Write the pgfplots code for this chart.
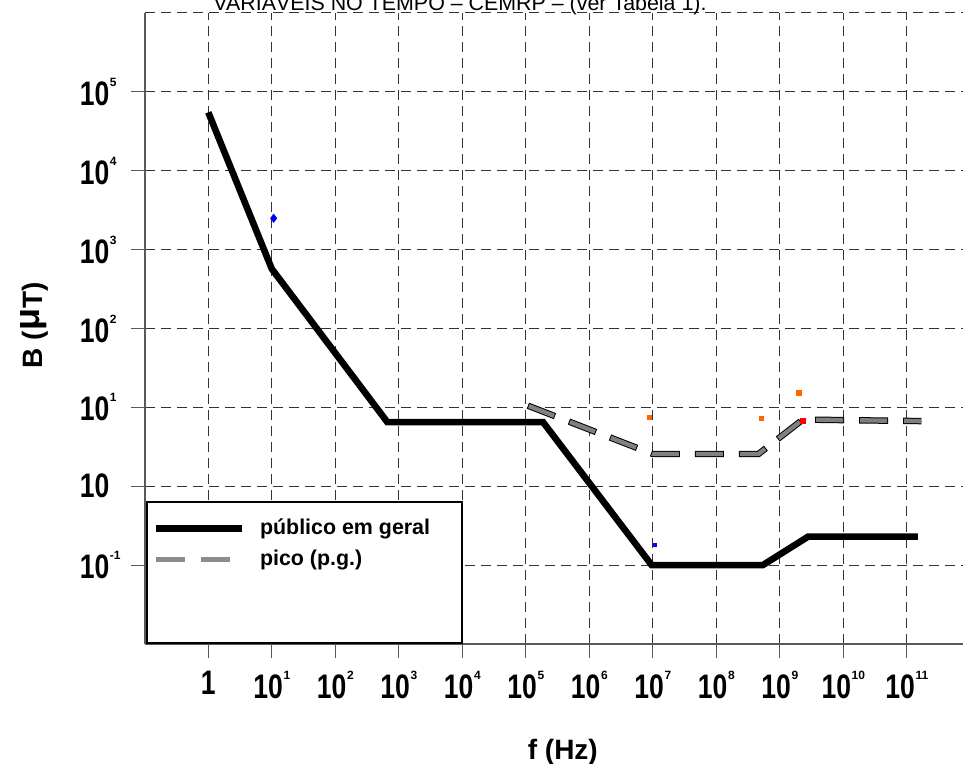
\documentclass[border=0pt]{standalone}
\usepackage{fontspec}
\setmainfont{Liberation Sans}
\newfontfamily\tickfont[FakeStretch=0.78]{Liberation Sans}
\usepackage{pgfplots}
\pgfplotsset{compat=1.18}
\definecolor{orng}{HTML}{FF6600}
\newcommand{\xl}[1]{{\tickfont\bfseries 10}\hspace{0.3pt}\raisebox{9.5pt}{\fontsize{6}{6}\selectfont\bfseries #1}}
\newcommand{\yl}[1]{{\tickfont\bfseries 10}\rlap{\hspace{0.3pt}\raisebox{9.5pt}{\fontsize{6}{6}\selectfont\bfseries #1}}}
\begin{document}
\begin{tikzpicture}
\begin{axis}[
  scale only axis, width=412.75pt, height=315.5pt,
  xmode=log, ymode=log,
  xmin=1e-1, xmax=1e12, ymin=1e-2, ymax=1e6,
  axis x line*=bottom, axis y line*=left,
  axis line style={black!65, line width=0.9pt, -},
  xtick={1,1e1,1e2,1e3,1e4,1e5,1e6,1e7,1e8,1e9,1e10,1e11},
  xticklabels={{\tickfont\bfseries 1},\xl{1},\xl{2},\xl{3},\xl{4},\xl{5},\xl{6},\xl{7},\xl{8},\xl{9},\xl{10},\xl{11}},
  ytick={1e-1,1,1e1,1e2,1e3,1e4,1e5},
  yticklabels={\yl{-1},{\tickfont\bfseries 10},\yl{1},\yl{2},\yl{3},\yl{4},\yl{5}},
  extra y ticks={1e6}, extra y tick labels={},
  extra y tick style={major tick length=0pt},
  xminorticks=false, yminorticks=false,
  grid=major,
  major grid style={black!80, line width=0.5pt, dash pattern=on 5pt off 3pt},
  tick align=outside, major tick length=7pt,
  tick style={black!65, line width=0.6pt},
  ticklabel style={font=\fontsize{17}{17}\selectfont, inner sep=0pt},
  xticklabel style={anchor=north, yshift=-6.5pt},
  yticklabel style={anchor=east, xshift=-10.5pt},
  clip=false,
  legend style={at={(rel axis cs:0.0027,0.2254)}, anchor=north west, draw=none, fill=none,
    xshift=2.5pt, yshift=-6.5pt, inner sep=0pt,
    font=\bfseries\fontsize{10.7}{10.7}\selectfont,
    row sep=2pt, cells={anchor=west},
    /tikz/every odd column/.append style={column sep=5.5pt}},
]
\addplot[black, line width=3.3pt, forget plot] coordinates {
  (1,5.5e4) (10,570) (660,6.5) (1.87e5,6.5) (9.6e6,0.1) (5.4e8,0.1) (2.8e9,0.23) (1.5e11,0.23)};
\addplot[draw=black, line width=3.2pt, dash pattern=on 14.5pt off 7.5pt, forget plot,
  postaction={draw=black!50, line width=2.2pt, dash pattern=on 13.5pt off 8.5pt, dash phase=21.5pt}]
  coordinates {(1.08e5,10.5) (1e7,2.56) (4.6e8,2.56) (2.3e9,7.0) (1.7e11,6.7)};
% small coloured marks seen in the picture
\addplot[only marks, mark=diamond*, mark size=2pt, blue, forget plot] coordinates {(10.7,2500)};
\addplot[only marks, mark=square*, mark size=1pt, orng, forget plot] coordinates {(8.7e6,7.55) (5.2e8,7.2)};
\addplot[only marks, mark=square*, mark size=1.2pt, orng, forget plot] coordinates {(2.0e9,15.1)};
\addplot[only marks, mark=square*, mark size=1.2pt, red, forget plot] coordinates {(2.3e9,6.8)};
\addplot[only marks, mark=square*, mark size=0.8pt, blue, forget plot] coordinates {(1.07e7,0.18)};
% legend frame
\draw[black, line width=0.8pt, fill=white] (rel axis cs:0.0027,0.0016) rectangle (rel axis cs:0.3843,0.2254);
\addlegendimage{legend image code/.code={\draw[black, line width=3.3pt] (0pt,0pt) -- (43pt,0pt);}}
\addlegendentry{público em geral}
\addlegendimage{legend image code/.code={\draw[black!45, line width=2.5pt, dash pattern=on 14.5pt off 8pt] (0pt,0pt) -- (37.5pt,0pt); \path (43pt,0pt);}}
\addlegendentry{pico (p.g.)}
\coordinate (sw) at (rel axis cs:0,0);
\coordinate (ne) at (rel axis cs:1,1);
\node[anchor=base, font=\fontsize{10.7}{10.7}\selectfont] at ([yshift=1pt]rel axis cs:0.3818,1) {VARIÁVEIS NO TEMPO – CEMRP – (ver Tabela 1).};
\node[anchor=base, font=\bfseries\fontsize{14}{14}\selectfont] at ([yshift=-57.5pt]rel axis cs:0.5064,0) {f (Hz)};
\node[anchor=base, rotate=90, font=\bfseries\fontsize{14}{14}\selectfont] at ([xshift=-51pt]rel axis cs:0,0.505) {B (\raisebox{1.5pt}{\fontsize{18}{18}\selectfont μ}T)};
\end{axis}
\pgfresetboundingbox
\path[use as bounding box] ([xshift=-72.4pt, yshift=-60pt]sw) rectangle ([xshift=-3.65pt, yshift=6.5pt]ne);
\end{tikzpicture}
\end{document}
